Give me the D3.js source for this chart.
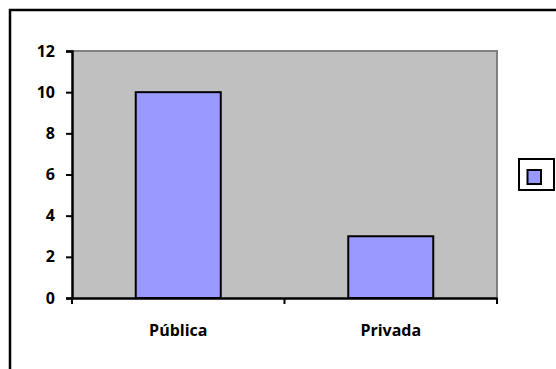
<!DOCTYPE html>
<html>
<head>
<meta charset="utf-8">
<script src="https://cdn.jsdelivr.net/npm/d3@7"></script>
<style>
  body { margin: 0; background: #fff; }
</style>
</head>
<body>
<script>
"use strict";
const categories = ["Pública", "Privada"];
const values = [10, 3];
const yTicks = [0, 2, 4, 6, 8, 10, 12];

const width = 556;
const height = 369;
const plot = { left: 72, right: 497, top: 51, bottom: 298 };

const svg = d3.select("body")
    .append("svg")
    .attr("width", width)
    .attr("height", height);

// outer chart frame (runs off the right and bottom edge)
svg.append("rect")
    .attr("x", 10)
    .attr("y", 10)
    .attr("width", 700)
    .attr("height", 500)
    .attr("fill", "#fff")
    .attr("stroke", "#000")
    .attr("stroke-width", 2.5);

const xScale = d3.scaleBand()
    .domain(categories)
    .range([plot.left, plot.right])
    .paddingInner(0.6)
    .paddingOuter(0.3);

const yScale = d3.scaleLinear()
    .domain([0, 12])
    .range([plot.bottom, plot.top]);

// plot area
svg.append("rect")
    .attr("x", plot.left)
    .attr("y", plot.top)
    .attr("width", plot.right - plot.left)
    .attr("height", plot.bottom - plot.top)
    .attr("fill", "#c0c0c0");

svg.append("path")
    .attr("d", `M${plot.left},${plot.top}H${plot.right}V${plot.bottom}`)
    .attr("fill", "none")
    .attr("stroke", "#808080")
    .attr("stroke-width", 2);

// bars
svg.selectAll(".bar")
    .data(values)
    .enter().append("rect")
    .attr("class", "bar")
    .attr("x", (d, i) => xScale(categories[i]))
    .attr("y", d => yScale(d))
    .attr("width", xScale.bandwidth())
    .attr("height", d => yScale(0) - yScale(d))
    .attr("fill", "#9999ff")
    .attr("stroke", "#000")
    .attr("stroke-width", 2);

// y axis
const yAxis = svg.append("g")
    .attr("transform", `translate(${plot.left}, 0)`)
    .call(d3.axisLeft(yScale).tickValues(yTicks).tickSize(6).tickPadding(11));

// x axis with ticks between categories
const xAxis = svg.append("g")
    .attr("transform", `translate(0, ${plot.bottom})`)
    .call(d3.axisBottom(xScale).tickSize(0).tickPadding(27));

const step = xScale.step();
xAxis.selectAll(".sep")
    .data(d3.range(categories.length + 1))
    .enter().append("line")
    .attr("class", "sep")
    .attr("x1", i => plot.left + i * step)
    .attr("x2", i => plot.left + i * step)
    .attr("y1", 0)
    .attr("y2", 6)
    .attr("stroke", "#000")
    .attr("stroke-width", 2);

[yAxis, xAxis].forEach(g => {
    g.select(".domain").attr("stroke", "#000").attr("stroke-width", 2.5);
    g.selectAll(".tick line").attr("stroke", "#000").attr("stroke-width", 2);
    g.selectAll("text").attr("font-size", 16).attr("fill", "#000")
        .attr("font-family", "'Open Sans', sans-serif").attr("font-weight", "bold");
});

// legend (no label)
const legend = svg.append("g");
legend.append("rect")
    .attr("x", 519)
    .attr("y", 159)
    .attr("width", 35)
    .attr("height", 31)
    .attr("fill", "#fff")
    .attr("stroke", "#000")
    .attr("stroke-width", 2);
legend.append("rect")
    .attr("x", 527.5)
    .attr("y", 170)
    .attr("width", 13.5)
    .attr("height", 14)
    .attr("fill", "#9999ff")
    .attr("stroke", "#000")
    .attr("stroke-width", 2);
</script>
</body>
</html>
